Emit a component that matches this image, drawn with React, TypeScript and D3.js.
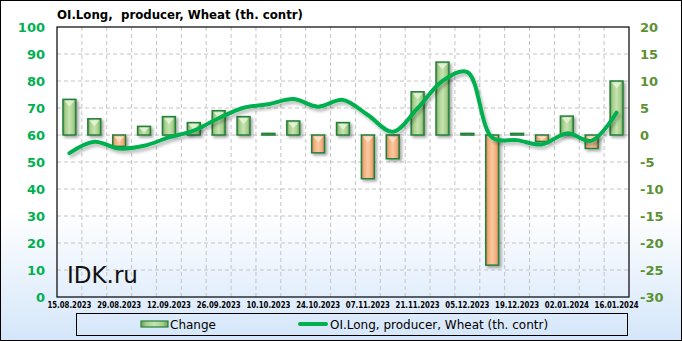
import React from "react";
import * as d3 from "d3";

const dates = ["15.08.2023","22.08.2023","29.08.2023","05.09.2023","12.09.2023","19.09.2023","26.09.2023","03.10.2023","10.10.2023","17.10.2023","24.10.2023","31.10.2023","07.11.2023","14.11.2023","21.11.2023","28.11.2023","05.12.2023","12.12.2023","19.12.2023","26.12.2023","02.01.2024","09.01.2024","16.01.2024"];
const change = [6.6, 3.0, -2.1, 1.6, 3.4, 2.3, 4.5, 3.4, 0.3, 2.6, -3.3, 2.3, -8.1, -4.4, 8.0, 13.5, 0.3, -24.1, 0.3, -1.2, 3.5, -2.5, 10.0];
const oiLong = [53.3, 57.5, 55.0, 56.0, 59.1, 61.6, 66.2, 70.1, 71.4, 73.3, 70.5, 73.0, 67.4, 61.2, 69.9, 80.0, 83.3, 59.0, 58.1, 56.5, 60.6, 57.9, 68.3];
const leftTicks = [0, 10, 20, 30, 40, 50, 60, 70, 80, 90, 100];
const rightTicks = [-30, -25, -20, -15, -10, -5, 0, 5, 10, 15, 20];
const title = "OI.Long,  producer, Wheat (th. contr)";
const seriesBar = "Change";
const seriesLine = "OI.Long, producer, Wheat (th. contr)";

const W = 682, H = 341;
const L = 57, R = 629, T = 27, B = 297;

export default function App() {
  const x = d3.scaleBand<string>().domain(dates).range([L, R]).paddingInner(0).paddingOuter(0);
  const yL = d3.scaleLinear().domain([0, 100]).range([B, T]);
  const yR = d3.scaleLinear().domain([-30, 20]).range([B, T]);
  const bw = x.bandwidth() * 0.52;
  const line = d3.line<number>()
    .x((_, i) => (x(dates[i]) as number) + x.bandwidth() / 2)
    .y((d) => yL(d))
    .curve(d3.curveCatmullRom.alpha(0.5));
  const font = "Tahoma, 'DejaVu Sans', Verdana, sans-serif";
  const vlines = dates.slice(1).map((d) => x(d) as number);

  return (
    <svg width={W} height={H} style={{ position: "absolute", left: 0, top: 0 }} fontFamily={font}>
      <defs>
        <linearGradient id="bg" x1="0" y1="0" x2="0" y2="1">
          <stop offset="0" stopColor="#ffffff" />
          <stop offset="0.62" stopColor="#ffffff" />
          <stop offset="1" stopColor="#d4e6fa" />
        </linearGradient>
        <linearGradient id="gpos" x1="0" y1="0" x2="1" y2="0">
          <stop offset="0" stopColor="#6f9e55" />
          <stop offset="0.2" stopColor="#a8cf8c" />
          <stop offset="0.5" stopColor="#c6e3b1" />
          <stop offset="0.8" stopColor="#a8cf8c" />
          <stop offset="1" stopColor="#6f9e55" />
        </linearGradient>
        <linearGradient id="gneg" x1="0" y1="0" x2="1" y2="0">
          <stop offset="0" stopColor="#c98050" />
          <stop offset="0.2" stopColor="#f2ae7c" />
          <stop offset="0.5" stopColor="#f9c9a0" />
          <stop offset="0.8" stopColor="#f2ae7c" />
          <stop offset="1" stopColor="#c98050" />
        </linearGradient>
        <filter id="sh" x="-50%" y="-50%" width="200%" height="200%">
          <feDropShadow dx="2" dy="2" stdDeviation="1.8" floodColor="#000" floodOpacity="0.35" />
        </filter>
        <filter id="shl" x="-10%" y="-30%" width="120%" height="160%">
          <feDropShadow dx="2" dy="3" stdDeviation="1.5" floodColor="#000" floodOpacity="0.25" />
        </filter>
      </defs>
      <rect x={0.5} y={0.5} width={W - 1} height={H - 1} fill="url(#bg)" stroke="#000" />
      <text x={L} y={19} fontSize={12.5} fontWeight="bold" textLength={246} lengthAdjust="spacingAndGlyphs" style={{ whiteSpace: "pre" }}>{title}</text>

      {leftTicks.slice(1, -1).map((t) => (
        <line key={"h" + t} x1={L} x2={R} y1={yL(t)} y2={yL(t)} stroke="#c4c4c4" strokeDasharray="4,3" />
      ))}
      {vlines.map((v, i) => (
        <line key={"v" + i} x1={v} x2={v} y1={T} y2={B} stroke="#c4c4c4" strokeDasharray="4,3" />
      ))}

      <text x={67} y={283} fontSize={23} fill="#111">IDK.ru</text>

      {change.map((c, i) => {
        const cx = (x(dates[i]) as number) + x.bandwidth() / 2;
        const y0 = yR(0), y1 = yR(c);
        const top = Math.min(y0, y1), h = Math.max(Math.abs(y1 - y0), 1.5);
        const pos = c >= 0;
        const tri = Math.min(6, h / 2);
        return (
          <g key={"b" + i} filter="url(#sh)">
            <rect x={cx - bw / 2} y={top} width={bw} height={h} fill={pos ? "url(#gpos)" : "url(#gneg)"} stroke="#24803c" strokeWidth={1.5} />
            {h > 4 && (
              <path d={`M${cx - bw / 2 + 1.5},${top + 1.5}L${cx + bw / 2 - 1.5},${top + 1.5}L${cx},${top + 1.5 + tri}Z`} fill={pos ? "#e4f3d8" : "#fde2cc"} opacity={0.9} />
            )}
          </g>
        );
      })}

      <path d={line(oiLong) || ""} fill="none" stroke="#00b050" strokeWidth={4} strokeLinecap="round" filter="url(#shl)" />

      <rect x={L} y={T} width={R - L} height={B - T} fill="none" stroke="#000" strokeWidth={1.2} />

      {leftTicks.map((t) => (
        <text key={"l" + t} x={45} y={yL(t) + 5} textAnchor="end" fontSize={13} fontWeight="bold" fill="#00b050">{t}</text>
      ))}
      {rightTicks.map((t) => (
        <text key={"r" + t} x={640} y={yR(t) + 5} textAnchor="start" fontSize={13} fontWeight="bold" fill="#5b9131">{t}</text>
      ))}
      {dates.map((d, i) => i % 2 === 0 ? (
        <text key={"x" + i} x={(x(d) as number) + x.bandwidth() / 2 - 22} y={308} fontSize={8} fontWeight="bold" fill="#000" textLength={44} lengthAdjust="spacingAndGlyphs">{d}</text>
      ) : null)}

      <rect x={76.5} y={313.5} width={551} height={22} fill="none" stroke="#000" />
      <rect x={141} y={321} width={27} height={6} fill="url(#gpos)" stroke="#24803c" strokeWidth={1.2} />
      <text x={170} y={329} fontSize={12} fill="#000">{seriesBar}</text>
      <line x1={300} x2={326} y1={324} y2={324} stroke="#00b050" strokeWidth={4} strokeLinecap="round" />
      <text x={330} y={329} fontSize={12} fill="#000">{seriesLine}</text>
    </svg>
  );
}
